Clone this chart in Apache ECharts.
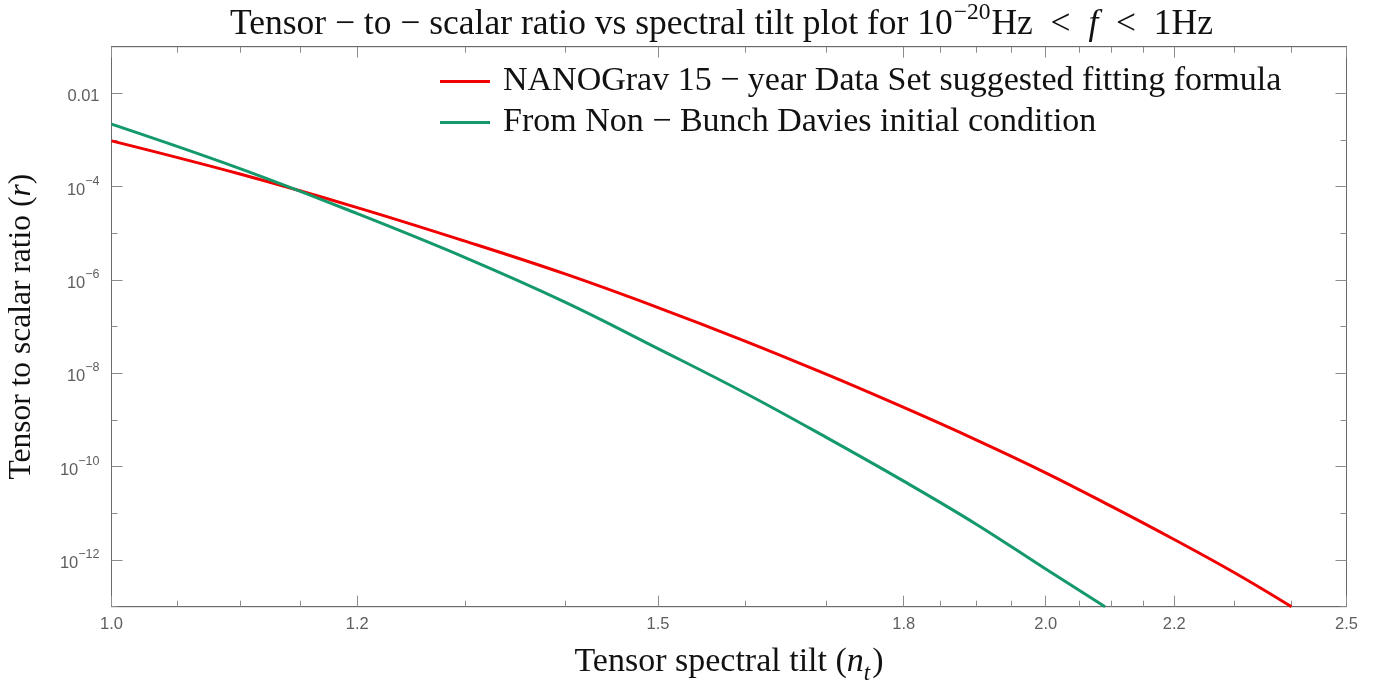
<!DOCTYPE html>
<html>
<head>
<meta charset="utf-8">
<script src="https://cdn.jsdelivr.net/npm/echarts@6/dist/echarts.min.js"></script>
<style>html,body{margin:0;padding:0;background:#fff}#c{width:1396px;height:681px}</style>
</head>
<body>
<div id="c"></div>
<script>
// ---- data ----
const ntNanograv = [1.0, 1.1, 1.2, 1.3, 1.4, 1.5, 1.6, 1.7, 1.8, 1.9, 2.0, 2.1, 2.2, 2.3, 2.4];
const rNanograv  = [9.6e-4, 1.87e-4, 3.57e-5, 6.8e-6, 1.35e-6, 2.57e-7, 4.93e-8, 9.5e-9, 1.86e-9, 3.72e-10, 7.4e-11, 1.41e-11, 2.75e-12, 5.4e-13, 1.0e-13];
const ntNBD = [1.0, 1.1, 1.2, 1.3, 1.4, 1.5, 1.6, 1.7, 1.8, 1.9, 2.0, 2.09];
const rNBD  = [2.2e-3, 2.45e-4, 2.65e-5, 3.03e-6, 3.37e-7, 3.4e-8, 3.8e-9, 4.2e-10, 4.9e-11, 5.8e-12, 6.4e-13, 1.0e-13];
const xMajorTicks = [1.0, 1.2, 1.5, 1.8, 2.0, 2.2, 2.5];
const xMinorTicks = [1.05, 1.1, 1.15, 1.3, 1.4, 1.6, 1.7, 1.85, 1.9, 1.95, 2.05, 2.1, 2.15, 2.3, 2.4];
const yMajorTicks = [1e-2, 1e-4, 1e-6, 1e-8, 1e-10, 1e-12];
const yMinorTicks = [1e-3, 1e-5, 1e-7, 1e-9, 1e-11, 1e-13];
const seriesNames = ['NANOGrav 15 − year Data Set suggested fitting formula', 'From Non − Bunch Davies initial condition'];

const serif = '"Liberation Serif", "DejaVu Serif", serif';
const sans = '"Liberation Sans", Arial, sans-serif';
const frameColor = '#6a6a6a';
const tickColor = '#8c8c8c';
const labelColor = '#5e5e5e';
const textColor = '#111';

function yLabel(v) {
  const e = Math.round(Math.log10(v));
  if (e === -2) return '{b|0.01}';
  return '{b|10}{s|' + (e < 0 ? '−' + (-e) : e) + '}';
}
const labelRich = {
  b: {fontSize: 16.5, fontFamily: sans, color: labelColor, lineHeight: 24, verticalAlign: 'bottom'},
  s: {fontSize: 12.5, fontFamily: sans, color: labelColor, lineHeight: 24, verticalAlign: 'top', padding: [0, 0, 0, 0]}
};

function xAx(pos, ticks, major) {
  return {
    type: 'log', logBase: 10, min: 1.0, max: 2.5, position: pos, gridIndex: 0,
    axisLine: {show: major, lineStyle: {color: frameColor, width: 1}},
    axisTick: {show: true, inside: true, length: major ? 11 : 6, customValues: ticks, lineStyle: {color: tickColor, width: 1}},
    axisLabel: (major && pos === 'bottom') ? {show: true, customValues: ticks, margin: 9, color: labelColor, fontSize: 16.5, fontFamily: sans,
      formatter: v => Number(v).toFixed(1)} : {show: false},
    splitLine: {show: false}, minorTick: {show: false}
  };
}
function yAx(pos, ticks, major) {
  return {
    type: 'log', logBase: 10, min: 1e-13, max: 1e-1, position: pos, gridIndex: 0,
    axisLine: {show: major, lineStyle: {color: frameColor, width: 1}},
    axisTick: {show: true, inside: true, length: major ? 11 : 6, customValues: ticks, lineStyle: {color: tickColor, width: 1}},
    axisLabel: (major && pos === 'left') ? {show: true, customValues: ticks, margin: 12, formatter: yLabel, rich: labelRich} : {show: false},
    splitLine: {show: false}, minorTick: {show: false}
  };
}

const xAxes = [xAx('bottom', xMajorTicks, true), xAx('bottom', xMinorTicks, false), xAx('top', xMajorTicks, true), xAx('top', xMinorTicks, false)];
xAxes[0].name = '{n|Tensor spectral tilt (}{i|n}{sub|t}{n|)}';
xAxes[0].nameLocation = 'middle';
xAxes[0].nameGap = 34;
xAxes[0].nameTextStyle = {rich: {
  n: {fontFamily: serif, fontSize: 34, color: textColor, lineHeight: 38, verticalAlign: 'bottom'},
  i: {fontFamily: serif, fontSize: 34, fontStyle: 'italic', color: textColor, lineHeight: 38, verticalAlign: 'bottom'},
  sub: {fontFamily: serif, fontSize: 23, fontStyle: 'italic', color: textColor, lineHeight: 38, verticalAlign: 'bottom', padding: [0, 2, -7, 0]}
}};
const yAxes = [yAx('left', yMajorTicks, true), yAx('left', yMinorTicks, false), yAx('right', yMajorTicks, true), yAx('right', yMinorTicks, false)];
yAxes[0].name = '{n|Tensor to scalar ratio (}{i|r}{n|)}';
yAxes[0].nameLocation = 'middle';
yAxes[0].nameRotate = 90;
yAxes[0].nameGap = 74;
yAxes[0].nameTextStyle = {rich: {
  n: {fontFamily: serif, fontSize: 31.5, color: textColor},
  i: {fontFamily: serif, fontSize: 31.5, fontStyle: 'italic', color: textColor}
}};

const chart = echarts.init(document.getElementById('c'), null, {renderer: 'canvas'});
chart.setOption({
  animation: false,
  backgroundColor: '#fff',
  title: {
    text: '{n|Tensor − to − scalar ratio vs spectral tilt plot for 10}{s|−20}{n|Hz  <  }{i|f}{n|  <  1Hz}',
    left: 230, top: 1, padding: 0,
    textStyle: {rich: {
      n: {fontFamily: serif, fontSize: 35.5, fontWeight: 'normal', color: textColor, lineHeight: 42, verticalAlign: 'bottom'},
      i: {fontFamily: serif, fontSize: 35.5, fontWeight: 'normal', fontStyle: 'italic', color: textColor, lineHeight: 42, verticalAlign: 'bottom'},
      s: {fontFamily: serif, fontSize: 23.5, fontWeight: 'normal', color: textColor, lineHeight: 42, verticalAlign: 'top', padding: [0, 1, 0, 1]}
    }}
  },
  grid: {left: 111.5, right: 49.5, top: 46.7, bottom: 74.3, show: true, borderColor: frameColor, borderWidth: 1,
    backgroundColor: 'transparent', outerBoundsMode: 'none', containLabel: false},
  legend: {
    left: 440, top: 63, orient: 'vertical', itemWidth: 50, itemHeight: 3, itemGap: 4, padding: 0,
    icon: 'rect',
    textStyle: {fontFamily: serif, fontSize: 34, color: textColor, lineHeight: 37, padding: [0, 0, 0, 8]},
    data: seriesNames
  },
  xAxis: xAxes,
  yAxis: yAxes,
  series: [
    {name: seriesNames[0], type: 'line', xAxisIndex: 0, yAxisIndex: 0, showSymbol: false, smooth: 0.4,
      lineStyle: {color: '#f00000', width: 3}, itemStyle: {color: '#f00000'},
      data: ntNanograv.map((x, i) => [x, rNanograv[i]])},
    {name: seriesNames[1], type: 'line', xAxisIndex: 0, yAxisIndex: 0, showSymbol: false, smooth: 0.4,
      lineStyle: {color: '#14996a', width: 3}, itemStyle: {color: '#14996a'},
      data: ntNBD.map((x, i) => [x, rNBD[i]])}
  ]
});
</script>
</body>
</html>
